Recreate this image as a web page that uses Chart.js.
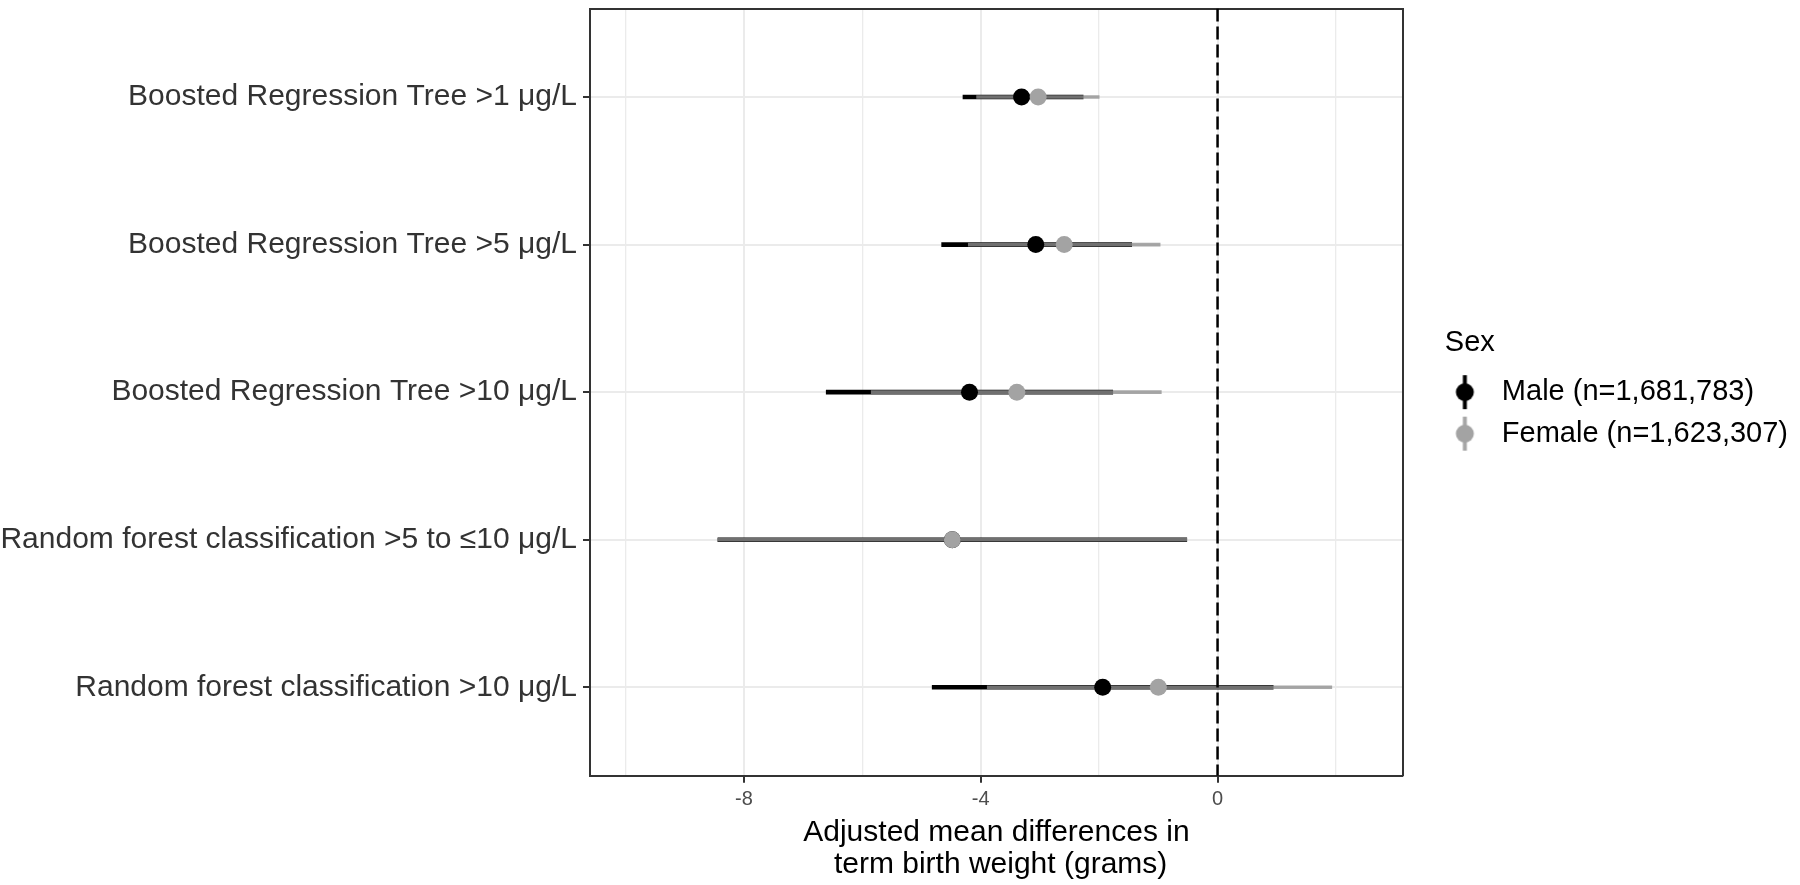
<!DOCTYPE html>
<html>
<head>
<meta charset="utf-8">
<script src="https://cdn.jsdelivr.net/npm/chart.js@4"></script>
<style>
  html, body { margin: 0; padding: 0; background: #fff; }
  #wrap { width: 1800px; height: 885px; }
</style>
</head>
<body>
<div id="wrap"><canvas id="chart"></canvas></div>
<script>
var categories = [
  'Boosted Regression Tree >1 μg/L',
  'Boosted Regression Tree >5 μg/L',
  'Boosted Regression Tree >10 μg/L',
  'Random forest classification >5 to ≤10 μg/L',
  'Random forest classification >10 μg/L'
];
var rows = [1, 2, 3, 4, 5];

var maleEst = [-3.31, -3.07, -4.19, -4.48, -1.94];
var maleLo = [-4.30, -4.66, -6.61, -8.44, -4.82];
var maleHi = [-2.27, -1.45, -1.77, -0.52, 0.94];

var femaleEst = [-3.03, -2.59, -3.39, -4.48, -1.00];
var femaleLo = [-4.07, -4.21, -5.85, -8.44, -3.89];
var femaleHi = [-2.00, -0.97, -0.95, -0.52, 1.93];

var sexLabels = ['Male (n=1,681,783)', 'Female (n=1,623,307)'];
var xGrid = [-10, -8, -6, -4, -2, 0, 2];
var xMajor = [-8, -4, 0];
var refLine = 0;
var xMin = -10.6, xMax = 3.13;
var yMin = 0.4, yMax = 5.6;

Chart.defaults.font.family = "'Liberation Sans', Arial, sans-serif";

function segs(lo, hi) {
  return rows.map(function (r, i) { return { y: r, x: [lo[i], hi[i]] }; });
}
function pts(est) {
  return rows.map(function (r, i) { return { x: est[i], y: r }; });
}

// legend key: point with a vertical line through it
function keyGlyph(lineColor, dotColor) {
  var c = document.createElement('canvas');
  c.width = 40; c.height = 38;
  var g = c.getContext('2d');
  g.strokeStyle = lineColor;
  g.lineWidth = 4;
  g.beginPath(); g.moveTo(12.5, 2); g.lineTo(12.5, 36); g.stroke();
  g.fillStyle = dotColor;
  g.beginPath(); g.arc(12.5, 19, 9, 0, Math.PI * 2); g.fill();
  return c;
}
var keys = [keyGlyph('#000', '#000'), keyGlyph('#a6a6a6', '#a3a3a3')];

var isMajor = function (c) { return c.tick && xMajor.indexOf(c.tick.value) >= 0; };

var config = {
  type: 'scatter',
  data: {
    datasets: [
      {
        label: 'zero',
        data: [{ x: refLine, y: yMin }, { x: refLine, y: yMax }],
        showLine: true,
        borderColor: '#000',
        borderWidth: 2.5,
        borderDash: [13, 5],
        pointRadius: 0,
        order: 0
      },
      {
        label: sexLabels[1],
        data: pts(femaleEst),
        backgroundColor: '#a3a3a3',
        pointRadius: 8.5,
        pointBorderWidth: 0,
        order: 1
      },
      {
        label: sexLabels[0],
        data: pts(maleEst),
        backgroundColor: '#000',
        pointRadius: 8.5,
        pointBorderWidth: 0,
        order: 2
      },
      {
        type: 'bar',
        indexAxis: 'y',
        label: 'female ci',
        data: segs(femaleLo, femaleHi),
        backgroundColor: 'rgba(144,144,144,0.78)',
        barThickness: 3,
        grouped: false,
        borderWidth: 0,
        order: 3
      },
      {
        type: 'bar',
        indexAxis: 'y',
        label: 'male ci',
        data: segs(maleLo, maleHi),
        backgroundColor: '#000',
        barThickness: 4,
        grouped: false,
        borderWidth: 0,
        order: 4
      }
    ]
  },
  options: {
    responsive: true,
    maintainAspectRatio: false,
    animation: false,
    layout: { padding: { top: 4, right: 2, bottom: 0, left: 0 } },
    plugins: {
      tooltip: { enabled: false },
      legend: {
        position: 'right',
        align: 'center',
        fullSize: false,
        maxWidth: 400,
        title: {
          display: true,
          position: 'start',
          text: 'Sex',
          color: '#000',
          font: { size: 29 },
          padding: { top: 5, bottom: 1.7 }
        },
        labels: {
          usePointStyle: true,
          pointStyleWidth: 30,
          boxHeight: 29,
          padding: 12.5,
          color: '#000',
          font: { size: 29 },
          generateLabels: function () {
            return sexLabels.map(function (t, i) {
              return { text: t, pointStyle: keys[i], fillStyle: '#000', strokeStyle: '#000', lineWidth: 0, hidden: false, fontColor: '#000' };
            });
          }
        }
      }
    },
    scales: {
      x: {
        type: 'linear',
        position: 'bottom',
        min: xMin,
        max: xMax,
        offset: false,
        afterBuildTicks: function (s) { s.ticks = xGrid.map(function (v) { return { value: v }; }); },
        ticks: {
          autoSkip: false,
          maxRotation: 0,
          padding: 5,
          color: '#4d4d4d',
          font: { size: 20 },
          callback: function (v) { return xMajor.indexOf(v) >= 0 ? String(v) : ''; }
        },
        grid: {
          offset: false,
          color: '#ebebeb',
          lineWidth: function (c) { return isMajor(c) ? 2 : 1.3; },
          tickLength: 7,
          tickWidth: 2,
          tickColor: function (c) { return isMajor(c) ? '#333' : 'rgba(0,0,0,0)'; }
        },
        border: { color: '#333', width: 2 },
        title: {
          display: true,
          text: ['Adjusted mean differences in', ' term birth weight (grams)'],
          color: '#000',
          font: { size: 30, lineHeight: 1.07 },
          padding: { top: 0, bottom: 4 }
        }
      },
      y: {
        type: 'linear',
        position: 'left',
        reverse: true,
        min: yMin,
        max: yMax,
        offset: false,
        afterBuildTicks: function (s) { s.ticks = rows.map(function (v) { return { value: v }; }); },
        afterFit: function (s) { s.width = 590; s.paddingTop = 0; s.paddingBottom = 0; },
        ticks: {
          autoSkip: false,
          padding: 6,
          color: '#333',
          font: { size: 30 },
          callback: function (v) { return categories[v - 1]; }
        },
        grid: { offset: false, color: '#ebebeb', lineWidth: 2, tickLength: 7, tickWidth: 2, tickColor: '#333' },
        border: { color: '#333', width: 2 }
      },
      // top and right panel edges
      x2: {
        type: 'linear',
        position: 'top',
        min: 0,
        max: 1,
        ticks: { display: false },
        grid: { display: false, drawTicks: false },
        border: { color: '#333', width: 2 },
        afterFit: function (s) { s.height = 0; }
      },
      y2: {
        type: 'linear',
        position: 'right',
        min: 0,
        max: 1,
        ticks: { display: false },
        grid: { display: false, drawTicks: false },
        border: { color: '#333', width: 2 },
        afterFit: function (s) { s.width = 42; }
      }
    }
  }
};

var myChart = new Chart(document.getElementById('chart'), config);
</script>
</body>
</html>
